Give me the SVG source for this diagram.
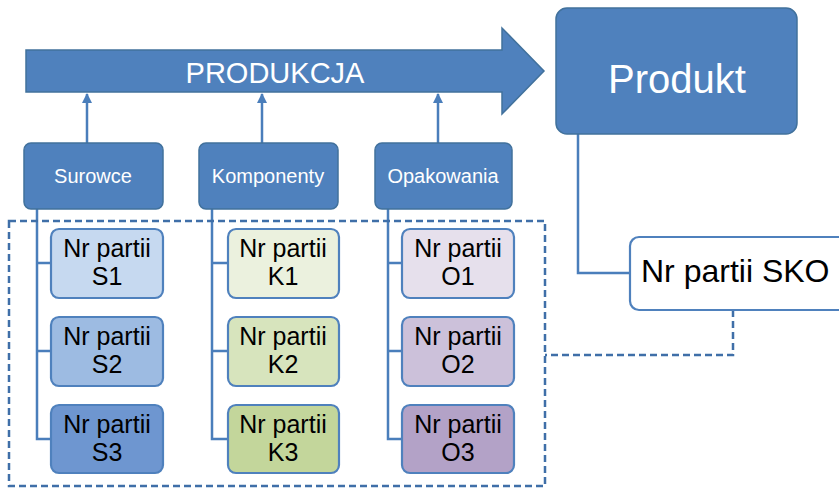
<svg xmlns="http://www.w3.org/2000/svg" width="839" height="488" viewBox="0 0 839 488">
  <style>
    .blue { fill: #4F81BD; stroke: #41719C; stroke-width: 1.5; }
    .child { stroke: #4F81BD; stroke-width: 2.2; }
    .wt { fill: #FFFFFF; font-family: "Liberation Sans", Arial, sans-serif; text-anchor: middle; }
    .bt { fill: #000000; font-family: "Liberation Sans", Arial, sans-serif; text-anchor: middle; font-size: 25px; }
    .line { fill: none; stroke: #4A7EBB; stroke-width: 2.5; }
    .dash { fill: none; stroke: #3F6FA8; stroke-width: 2.5; stroke-dasharray: 7 4; }
  </style>
  <defs>
    <marker id="tip" viewBox="0 0 10 10" refX="9" refY="5" markerWidth="4" markerHeight="4" orient="auto" markerUnits="strokeWidth">
      <path d="M0,0 L10,5 L0,10 Z" fill="#4A7EBB"/>
    </marker>
  </defs>

  <rect width="839" height="488" fill="#FFFFFF"/>

  <!-- connectors -->
  <g id="connectors">
    <!-- group boxes feed the production arrow -->
    <line class="line" x1="87" y1="143" x2="87" y2="94" marker-end="url(#tip)"/>
    <line class="line" x1="262" y1="143" x2="262" y2="94" marker-end="url(#tip)"/>
    <line class="line" x1="438" y1="143" x2="438" y2="94" marker-end="url(#tip)"/>
    <!-- batch trees -->
    <path class="line" d="M37,209 V439 H51 M37,263 H51 M37,351 H51"/>
    <path class="line" d="M212,209 V439 H228 M212,263 H228 M212,351 H228"/>
    <path class="line" d="M388,209 V439 H402 M388,263 H402 M388,351 H402"/>
    <!-- product to its batch number -->
    <path class="line" d="M578,134 V273 H630"/>
    <!-- batch group frame and its link to the product batch -->
    <rect class="dash" x="9" y="221" width="536" height="265"/>
    <path class="dash" d="M733,310 V355 H545"/>
  </g>

  <!-- production arrow -->
  <g id="produkcja">
    <path class="blue" d="M26,50 H502 V28 L544,71 L502,114 V92 H26 Z"/>
    <text class="wt" x="275" y="83" font-size="29">PRODUKCJA</text>
  </g>

  <g id="produkt">
    <rect class="blue" x="556" y="8" width="241" height="126" rx="11"/>
    <text class="wt" x="677" y="93" font-size="40">Produkt</text>
  </g>

  <g id="nr-partii-sko">
    <rect x="630" y="237" width="230" height="73" rx="9" fill="#FFFFFF" stroke="#4F81BD" stroke-width="2.2"/>
    <text x="641" y="282" font-family="'Liberation Sans', Arial, sans-serif" font-size="32" fill="#000000">Nr partii SKO</text>
  </g>

  <!-- material groups -->
  <g id="surowce">
    <rect class="blue" x="24" y="143" width="139" height="66" rx="7"/>
    <text class="wt" x="93" y="183" font-size="20">Surowce</text>
  </g>
  <g id="komponenty">
    <rect class="blue" x="199" y="143" width="139" height="66" rx="7"/>
    <text class="wt" x="268" y="183" font-size="20">Komponenty</text>
  </g>
  <g id="opakowania">
    <rect class="blue" x="375" y="143" width="137" height="66" rx="7"/>
    <text class="wt" x="443" y="183" font-size="20">Opakowania</text>
  </g>

  <!-- batch numbers -->
  <g id="s1">
    <rect class="child" x="51" y="229" width="112" height="69" rx="8" fill="#C6D9F0"/>
    <text class="bt" x="107" y="257">Nr partii</text>
    <text class="bt" x="107" y="285">S1</text>
  </g>
  <g id="s2">
    <rect class="child" x="51" y="317" width="112" height="69" rx="8" fill="#9DBBE2"/>
    <text class="bt" x="107" y="345">Nr partii</text>
    <text class="bt" x="107" y="373">S2</text>
  </g>
  <g id="s3">
    <rect class="child" x="51" y="405" width="112" height="68" rx="8" fill="#6E96D0"/>
    <text class="bt" x="107" y="433">Nr partii</text>
    <text class="bt" x="107" y="461">S3</text>
  </g>

  <g id="k1">
    <rect class="child" x="228" y="229" width="111" height="69" rx="8" fill="#EBF1DE"/>
    <text class="bt" x="283" y="257">Nr partii</text>
    <text class="bt" x="283" y="285">K1</text>
  </g>
  <g id="k2">
    <rect class="child" x="228" y="317" width="111" height="69" rx="8" fill="#D7E4BD"/>
    <text class="bt" x="283" y="345">Nr partii</text>
    <text class="bt" x="283" y="373">K2</text>
  </g>
  <g id="k3">
    <rect class="child" x="228" y="405" width="111" height="68" rx="8" fill="#C3D69B"/>
    <text class="bt" x="283" y="433">Nr partii</text>
    <text class="bt" x="283" y="461">K3</text>
  </g>

  <g id="o1">
    <rect class="child" x="402" y="229" width="112" height="69" rx="8" fill="#E6E0EC"/>
    <text class="bt" x="458" y="257">Nr partii</text>
    <text class="bt" x="458" y="285">O1</text>
  </g>
  <g id="o2">
    <rect class="child" x="402" y="317" width="112" height="69" rx="8" fill="#CCC1DA"/>
    <text class="bt" x="458" y="345">Nr partii</text>
    <text class="bt" x="458" y="373">O2</text>
  </g>
  <g id="o3">
    <rect class="child" x="402" y="405" width="112" height="68" rx="8" fill="#B3A2C7"/>
    <text class="bt" x="458" y="433">Nr partii</text>
    <text class="bt" x="458" y="461">O3</text>
  </g>
</svg>
